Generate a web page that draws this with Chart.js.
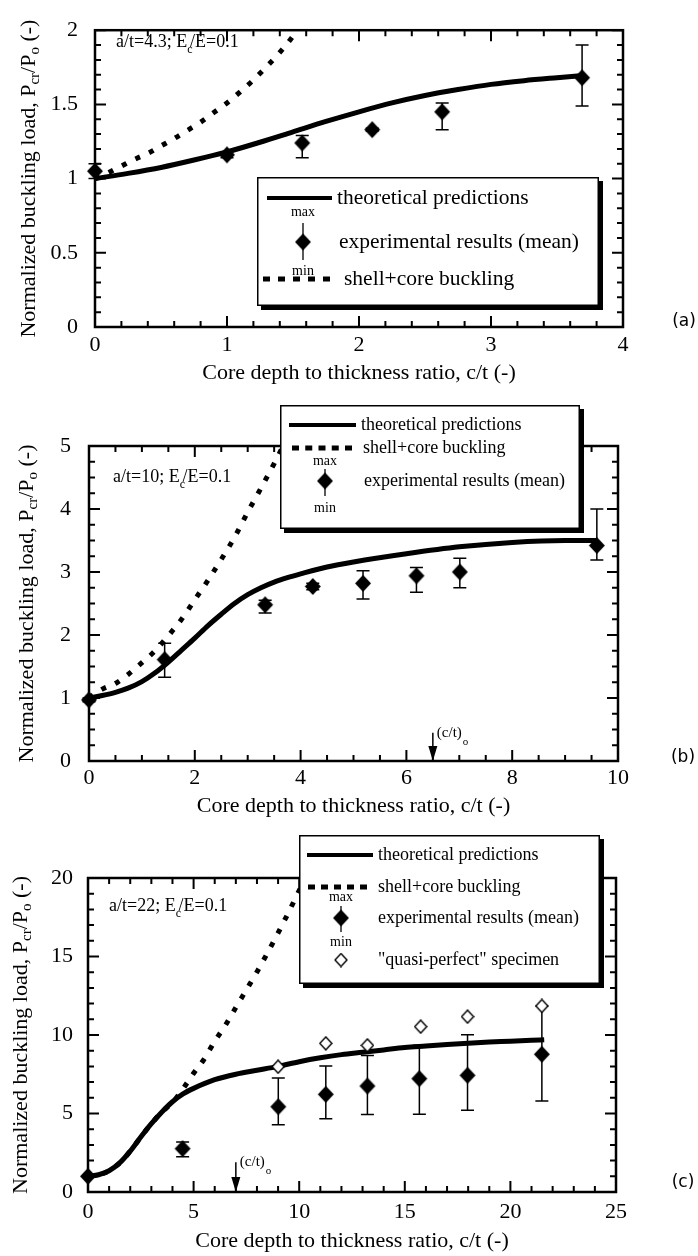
<!DOCTYPE html>
<html><head><meta charset="utf-8">
<script src="https://cdn.jsdelivr.net/npm/chart.js@4.4.1/dist/chart.umd.min.js"></script>
<style>
html,body{margin:0;padding:0;background:#fff;}
#wrap{position:relative;width:698px;height:1256px;overflow:hidden;background:#fff;}
canvas{position:absolute;left:0;top:0;width:698px;height:1256px;}
</style></head><body>
<div id="wrap">
<canvas id="ca" width="698" height="1256"></canvas>
<canvas id="cb" width="698" height="1256"></canvas>
<canvas id="cc" width="698" height="1256"></canvas>
</div>
<script>
// ---------------- DATA ----------------
// Panel (a): a/t = 4.3
const aXTicks = [0, 1, 2, 3, 4];
const aYTicks = [0, 0.5, 1, 1.5, 2];
const aTheoryX = [0, 0.25, 0.5, 0.75, 1, 1.25, 1.5, 1.75, 2, 2.25, 2.5, 2.75, 3, 3.25, 3.5, 3.7];
const aTheoryY = [1.00, 1.035, 1.075, 1.125, 1.18, 1.245, 1.315, 1.385, 1.45, 1.51, 1.56, 1.60, 1.635, 1.66, 1.68, 1.695];
const aShellX = [0, 0.1, 0.2, 0.3, 0.4, 0.5, 0.6, 0.7, 0.8, 0.9, 1.0, 1.1, 1.2, 1.3, 1.4, 1.5, 1.53];
const aShellY = [1.0, 1.04, 1.085, 1.13, 1.17, 1.22, 1.27, 1.325, 1.38, 1.445, 1.51, 1.585, 1.665, 1.755, 1.85, 1.96, 2.0];
const aExpX = [0, 1.0, 1.57, 2.1, 2.63, 3.69];
const aExpMean = [1.05, 1.16, 1.24, 1.33, 1.45, 1.68];
const aExpMax = [1.10, 1.18, 1.29, 1.34, 1.51, 1.90];
const aExpMin = [1.00, 1.14, 1.14, 1.32, 1.33, 1.49];

// Panel (b): a/t = 10
const bXTicks = [0, 2, 4, 6, 8, 10];
const bYTicks = [0, 1, 2, 3, 4, 5];
const bTheoryX = [0, 0.25, 0.5, 0.75, 1.0, 1.25, 1.5, 1.75, 2.0, 2.25, 2.5, 2.75, 3.0, 3.25, 3.5, 3.75, 4.0, 4.5, 5.0, 6.0, 7.0, 8.0, 9.0, 9.6];
const bTheoryY = [1.0, 1.04, 1.09, 1.16, 1.26, 1.40, 1.57, 1.76, 1.95, 2.15, 2.33, 2.50, 2.64, 2.75, 2.84, 2.91, 2.97, 3.08, 3.16, 3.29, 3.40, 3.47, 3.50, 3.50];
const bShellX = [0, 0.25, 0.5, 0.75, 1.0, 1.25, 1.5, 1.75, 2.0, 2.25, 2.5, 2.75, 3.0, 3.25, 3.5, 3.67];
const bShellY = [1.0, 1.14, 1.23, 1.38, 1.56, 1.75, 1.99, 2.25, 2.56, 2.87, 3.2, 3.55, 3.95, 4.33, 4.72, 5.0];
const bExpX = [0, 1.43, 3.33, 4.23, 5.18, 6.19, 7.01, 9.6];
const bExpMean = [0.97, 1.61, 2.48, 2.77, 2.82, 2.94, 3.00, 3.42];
const bExpMax = [1.00, 1.87, 2.55, 2.82, 3.02, 3.07, 3.22, 4.00];
const bExpMin = [0.94, 1.33, 2.35, 2.72, 2.57, 2.68, 2.75, 3.19];
const bCritical = 6.5;

// Panel (c): a/t = 22
const cXTicks = [0, 5, 10, 15, 20, 25];
const cYTicks = [0, 5, 10, 15, 20];
const cTheoryX = [0, 0.5, 1, 1.5, 2, 2.5, 3, 3.5, 4, 4.5, 5, 6, 7, 8, 9, 10, 11, 12, 13, 14, 15, 16, 17, 18, 19, 20, 21, 21.6];
const cTheoryY = [1.0, 1.1, 1.35, 1.85, 2.6, 3.5, 4.35, 5.1, 5.75, 6.25, 6.6, 7.15, 7.5, 7.75, 8.0, 8.3, 8.55, 8.75, 8.9, 9.05, 9.2, 9.3, 9.4, 9.48, 9.55, 9.6, 9.66, 9.7];
const cShellX = [0, 0.5, 1, 1.5, 2, 2.5, 3, 3.5, 4, 4.5, 5, 5.5, 6, 6.5, 7, 7.5, 8, 8.5, 9, 9.5, 10, 10.3];
const cShellY = [1.0, 1.1, 1.35, 1.85, 2.6, 3.5, 4.35, 5.1, 5.7, 6.58, 7.56, 8.47, 9.6, 10.61, 11.75, 12.88, 14.02, 15.23, 16.5, 17.82, 19.2, 20.0];
const cExpX = [0, 4.48, 9.01, 11.26, 13.23, 15.69, 17.97, 21.49];
const cExpMean = [1.0, 2.76, 5.43, 6.22, 6.75, 7.22, 7.43, 8.77];
const cExpMax = [1.0, 3.18, 7.26, 8.03, 8.70, 9.34, 10.02, 11.85];
const cExpMin = [1.0, 2.25, 4.29, 4.67, 4.93, 4.95, 5.20, 5.80];
const cQuasiX = [9.0, 11.26, 13.23, 15.75, 17.97, 21.49];
const cQuasiY = [7.98, 9.47, 9.34, 10.53, 11.17, 11.85];
const cCritical = 7.0;

const X_TITLE = 'Core depth to thickness ratio, c/t (-)';

// ---------------- STYLE ----------------
const SERIF = '"Liberation Serif", "Times New Roman", serif';
Chart.defaults.font.family = SERIF;
Chart.defaults.color = '#000';

function diamondImg(w, h, filled) {
  const c = document.createElement('canvas');
  c.width = w + 2; c.height = h + 2;
  const g = c.getContext('2d');
  g.beginPath();
  g.moveTo(c.width / 2, 1); g.lineTo(c.width - 1, c.height / 2);
  g.lineTo(c.width / 2, c.height - 1); g.lineTo(1, c.height / 2); g.closePath();
  if (filled) { g.fillStyle = '#000'; g.fill(); }
  else { g.fillStyle = '#fff'; g.fill(); g.lineWidth = 1.4; g.strokeStyle = '#000'; g.stroke(); }
  return c;
}
const DIAMOND = diamondImg(16, 17, true);
const OPEN_DIAMOND = diamondImg(12, 13, false);

function pts(xs, ys) { return xs.map((x, i) => ({ x: x, y: ys[i] })); }

function drawYTitle(ctx, cx, cy) {
  const big = '22px ' + SERIF, small = '15px ' + SERIF;
  const parts = [['Normalized buckling load, P', 0], ['cr', 1], ['/P', 0], ['o', 1], [' (-)', 0]];
  let total = 0;
  const ws = parts.map(p => { ctx.font = p[1] ? small : big; const w = ctx.measureText(p[0]).width; total += w; return w; });
  ctx.save();
  ctx.translate(cx, cy); ctx.rotate(-Math.PI / 2);
  ctx.fillStyle = '#000'; ctx.textBaseline = 'middle'; ctx.textAlign = 'left';
  let x = -total / 2;
  parts.forEach((p, i) => { ctx.font = p[1] ? small : big; ctx.fillText(p[0], x, p[1] ? 6 : 0); x += ws[i]; });
  ctx.restore();
}

function drawAnnotation(ctx, A) {
  ctx.save();
  ctx.fillStyle = '#000'; ctx.textBaseline = 'middle'; ctx.textAlign = 'left';
  ctx.font = '18px ' + SERIF;
  ctx.fillText(A.pre, A.x, A.y);
  const w = ctx.measureText(A.pre).width;
  ctx.font = '12px ' + SERIF;
  ctx.fillText('c', A.x + w, A.y + 8);
  const ws = ctx.measureText('c').width;
  ctx.font = '18px ' + SERIF;
  ctx.fillText('/E=0.1', A.x + w + ws * 0.55, A.y);
  ctx.restore();
}

function drawLegend(ctx, L) {
  const b = L.box;
  ctx.save();
  ctx.fillStyle = '#000'; ctx.fillRect(b.x + 4, b.y + 4, b.w, b.h);
  ctx.fillStyle = '#fff'; ctx.fillRect(b.x, b.y, b.w, b.h);
  ctx.strokeStyle = '#000'; ctx.lineWidth = 1.5; ctx.strokeRect(b.x + 0.75, b.y + 0.75, b.w - 1.5, b.h - 1.5);
  ctx.fillStyle = '#000';
  for (const it of L.items) {
    if (it.type === 'line') {
      ctx.lineWidth = 4; ctx.beginPath(); ctx.moveTo(it.x1, it.y); ctx.lineTo(it.x2, it.y); ctx.stroke();
    } else if (it.type === 'dash') {
      const n = 5, d = 7, g = (it.x2 - it.x1 - n * d) / (n - 1);
      for (let k = 0; k < n; k++) ctx.fillRect(it.x1 + k * (d + g), it.y - 2.5, d, 5);
    } else if (it.type === 'exp') {
      ctx.lineWidth = 1.3; ctx.beginPath(); ctx.moveTo(it.cx, it.barTop); ctx.lineTo(it.cx, it.barBot); ctx.stroke();
      ctx.drawImage(DIAMOND, it.cx - DIAMOND.width / 2, it.y - DIAMOND.height / 2);
      ctx.font = '14px ' + SERIF; ctx.textAlign = 'center'; ctx.textBaseline = 'middle';
      ctx.fillText('max', it.cx, it.maxY); ctx.fillText('min', it.cx, it.minY);
    } else if (it.type === 'open') {
      ctx.drawImage(OPEN_DIAMOND, it.cx - OPEN_DIAMOND.width / 2, it.y - OPEN_DIAMOND.height / 2);
    }
    ctx.font = L.font; ctx.textAlign = 'left'; ctx.textBaseline = 'middle';
    ctx.fillText(it.text, it.tx, it.y);
  }
  ctx.restore();
}

function makePanel(id, P) {
  const datasets = [
    { label: 'shell+core buckling', data: pts(P.shellX, P.shellY), showLine: true, borderColor: '#000', borderWidth: 5,
      borderDash: [5, 10], borderCapStyle: 'butt', pointRadius: 0, cubicInterpolationMode: 'monotone', tension: 0.4, fill: false, order: 3 },
    { label: 'theoretical predictions', data: pts(P.theoryX, P.theoryY), showLine: true, borderColor: '#000', borderWidth: 5,
      pointRadius: 0, cubicInterpolationMode: 'monotone', tension: 0.4, fill: false, order: 2 },
    { label: 'experimental results (mean)', data: pts(P.expX, P.expMean), showLine: false, pointStyle: DIAMOND,
      pointRadius: 8, clip: false, order: 0 }
  ];
  if (P.quasiX) {
    datasets.push({ label: '"quasi-perfect" specimen', data: pts(P.quasiX, P.quasiY), showLine: false,
      pointStyle: OPEN_DIAMOND, pointRadius: 7, clip: false, order: 1 });
  }
  const isMajor = (arr, v) => arr.some(m => Math.abs(m - v) < 1e-6);
  const deco = {
    id: 'deco',
    beforeDatasetsDraw(chart) {
      const ctx = chart.ctx, a = chart.chartArea, xs = chart.scales.x, ys = chart.scales.y;
      ctx.save();
      ctx.strokeStyle = '#000'; ctx.lineWidth = 2;
      let n = Math.round((P.xMax - P.xMin) / P.xMinor);
      for (let i = 0; i <= n; i++) {
        const v = P.xMin + i * P.xMinor, px = xs.getPixelForValue(v), L = isMajor(P.xTicks, v) ? 11 : 6;
        ctx.beginPath(); ctx.moveTo(px, a.bottom); ctx.lineTo(px, a.bottom - L);
        ctx.moveTo(px, a.top); ctx.lineTo(px, a.top + L); ctx.stroke();
      }
      n = Math.round((P.yMax - P.yMin) / P.yMinor);
      for (let i = 0; i <= n; i++) {
        const v = P.yMin + i * P.yMinor, py = ys.getPixelForValue(v), L = isMajor(P.yTicks, v) ? 11 : 6;
        ctx.beginPath(); ctx.moveTo(a.left, py); ctx.lineTo(a.left + L, py);
        ctx.moveTo(a.right, py); ctx.lineTo(a.right - L, py); ctx.stroke();
      }
      ctx.lineWidth = 2.5;
      ctx.strokeRect(a.left, a.top, a.right - a.left, a.bottom - a.top);
      ctx.lineWidth = 1.5;
      for (let i = 0; i < P.expX.length; i++) {
        if (P.expMax[i] === P.expMin[i]) continue;
        const px = xs.getPixelForValue(P.expX[i]);
        const y1 = ys.getPixelForValue(P.expMax[i]), y2 = ys.getPixelForValue(P.expMin[i]);
        ctx.beginPath();
        ctx.moveTo(px, y1); ctx.lineTo(px, y2);
        ctx.moveTo(px - 6.5, y1); ctx.lineTo(px + 6.5, y1);
        ctx.moveTo(px - 6.5, y2); ctx.lineTo(px + 6.5, y2);
        ctx.stroke();
      }
      ctx.restore();
    },
    afterDraw(chart) {
      const ctx = chart.ctx, a = chart.chartArea, xs = chart.scales.x, ys = chart.scales.y;
      drawYTitle(ctx, P.yTitleX, (a.top + a.bottom) / 2);
      drawAnnotation(ctx, P.annot);
      if (P.arrow) {
        const px = xs.getPixelForValue(P.arrow.x), yt = ys.getPixelForValue(P.arrow.top), yb = ys.getPixelForValue(0);
        ctx.save();
        ctx.strokeStyle = '#000'; ctx.fillStyle = '#000'; ctx.lineWidth = 1.5;
        ctx.beginPath(); ctx.moveTo(px, yt); ctx.lineTo(px, yb - 8); ctx.stroke();
        ctx.beginPath(); ctx.moveTo(px - 4.5, yb - 15); ctx.lineTo(px + 4.5, yb - 15); ctx.lineTo(px, yb); ctx.closePath(); ctx.fill();
        ctx.textBaseline = 'middle'; ctx.textAlign = 'left';
        ctx.font = '15px ' + SERIF;
        ctx.fillText('(c/t)', px + 4, yt);
        const w = ctx.measureText('(c/t)').width;
        ctx.font = '11px ' + SERIF;
        ctx.fillText('o', px + 5 + w, yt + 9);
        ctx.restore();
      }
      drawLegend(ctx, P.legend);
      ctx.save();
      ctx.fillStyle = '#000'; ctx.font = '17px "DejaVu Sans", sans-serif';
      ctx.textAlign = 'center'; ctx.textBaseline = 'middle';
      ctx.fillText(P.tag, P.tagX, P.tagY);
      ctx.restore();
    }
  };
  return new Chart(document.getElementById(id), {
    type: 'scatter',
    data: { datasets: datasets },
    options: {
      responsive: false, maintainAspectRatio: false, animation: false, devicePixelRatio: 1, events: [],
      layout: { padding: { left: 0, top: P.area.top, right: 698 - P.area.right, bottom: 1256 - P.area.bottom - P.xH } },
      plugins: { legend: { display: false }, tooltip: { enabled: false } },
      scales: {
        x: {
          type: 'linear', position: 'bottom', min: P.xMin, max: P.xMax,
          grid: { display: false, drawTicks: false }, border: { display: false },
          ticks: { padding: P.xTickPad, font: { size: 22 }, color: '#000', autoSkip: false, maxRotation: 0, callback: v => String(v) },
          title: { display: true, text: X_TITLE, font: { size: 22 }, color: '#000', padding: 0 },
          afterBuildTicks: s => { s.ticks = P.xTicks.map(v => ({ value: v })); },
          afterFit: s => { s.height = P.xH; }
        },
        y: {
          type: 'linear', position: 'left', min: P.yMin, max: P.yMax,
          grid: { display: false, drawTicks: false }, border: { display: false },
          ticks: { padding: P.yTickPad, font: { size: 22 }, color: '#000', autoSkip: false, callback: v => String(v) },
          afterBuildTicks: s => { s.ticks = P.yTicks.map(v => ({ value: v })); },
          afterFit: s => { s.width = P.area.left; }
        }
      }
    },
    plugins: [deco]
  });
}

makePanel('ca', {
  theoryX: aTheoryX, theoryY: aTheoryY, shellX: aShellX, shellY: aShellY,
  expX: aExpX, expMean: aExpMean, expMax: aExpMax, expMin: aExpMin,
  xTicks: aXTicks, yTicks: aYTicks, xMin: 0, xMax: 4, yMin: 0, yMax: 2, xMinor: 0.2, yMinor: 0.1,
  area: { left: 95, top: 13, right: 623, bottom: 327 }, xH: 59, xTickPad: 5, yTickPad: 17, yTitleX: 29,
  tag: '(a)', tagX: 684, tagY: 322,
  annot: { x: 116, y: 42, pre: 'a/t=4.3; E' },
  legend: {
    box: { x: 257, y: 177, w: 342, h: 129 }, font: '21.5px ' + SERIF,
    items: [
      { type: 'line', x1: 267, x2: 332, y: 198, text: 'theoretical predictions', tx: 337 },
      { type: 'exp', cx: 303, y: 242, maxY: 212, minY: 271, barTop: 223, barBot: 260, text: 'experimental results (mean)', tx: 339 },
      { type: 'dash', x1: 263, x2: 330, y: 279, text: 'shell+core buckling', tx: 344 }
    ]
  }
});

makePanel('cb', {
  theoryX: bTheoryX, theoryY: bTheoryY, shellX: bShellX, shellY: bShellY,
  expX: bExpX, expMean: bExpMean, expMax: bExpMax, expMin: bExpMin,
  xTicks: bXTicks, yTicks: bYTicks, xMin: 0, xMax: 10, yMin: 0, yMax: 5, xMinor: 0.5, yMinor: 0.25,
  area: { left: 89, top: 446, right: 618, bottom: 761 }, xH: 58, xTickPad: 4, yTickPad: 18, yTitleX: 27,
  tag: '(b)', tagX: 683, tagY: 758,
  annot: { x: 113, y: 477, pre: 'a/t=10; E' },
  arrow: { x: bCritical, top: 0.45 },
  legend: {
    box: { x: 280, y: 405, w: 300, h: 124 }, font: '18px ' + SERIF,
    items: [
      { type: 'line', x1: 289, x2: 356, y: 425, text: 'theoretical predictions', tx: 361 },
      { type: 'dash', x1: 292, x2: 352, y: 448, text: 'shell+core buckling', tx: 363 },
      { type: 'exp', cx: 325, y: 481, maxY: 461, minY: 508, barTop: 469, barBot: 496, text: 'experimental results (mean)', tx: 364 }
    ]
  }
});

makePanel('cc', {
  theoryX: cTheoryX, theoryY: cTheoryY, shellX: cShellX, shellY: cShellY,
  expX: cExpX, expMean: cExpMean, expMax: cExpMax, expMin: cExpMin, quasiX: cQuasiX, quasiY: cQuasiY,
  xTicks: cXTicks, yTicks: cYTicks, xMin: 0, xMax: 25, yMin: 0, yMax: 20, xMinor: 1, yMinor: 1,
  area: { left: 88, top: 878, right: 616, bottom: 1192 }, xH: 62, xTickPad: 7, yTickPad: 15, yTitleX: 21,
  tag: '(c)', tagX: 683, tagY: 1183,
  annot: { x: 109, y: 906, pre: 'a/t=22; E' },
  arrow: { x: cCritical, top: 1.9 },
  legend: {
    box: { x: 299, y: 835, w: 301, h: 149 }, font: '18px ' + SERIF,
    items: [
      { type: 'line', x1: 307, x2: 373, y: 855, text: 'theoretical predictions', tx: 378 },
      { type: 'dash', x1: 308, x2: 367, y: 887, text: 'shell+core buckling', tx: 378 },
      { type: 'exp', cx: 341, y: 918, maxY: 897, minY: 942, barTop: 906, barBot: 932, text: 'experimental results (mean)', tx: 378 },
      { type: 'open', cx: 341, y: 960, text: '"quasi-perfect" specimen', tx: 378 }
    ]
  }
});
</script>
</body></html>
